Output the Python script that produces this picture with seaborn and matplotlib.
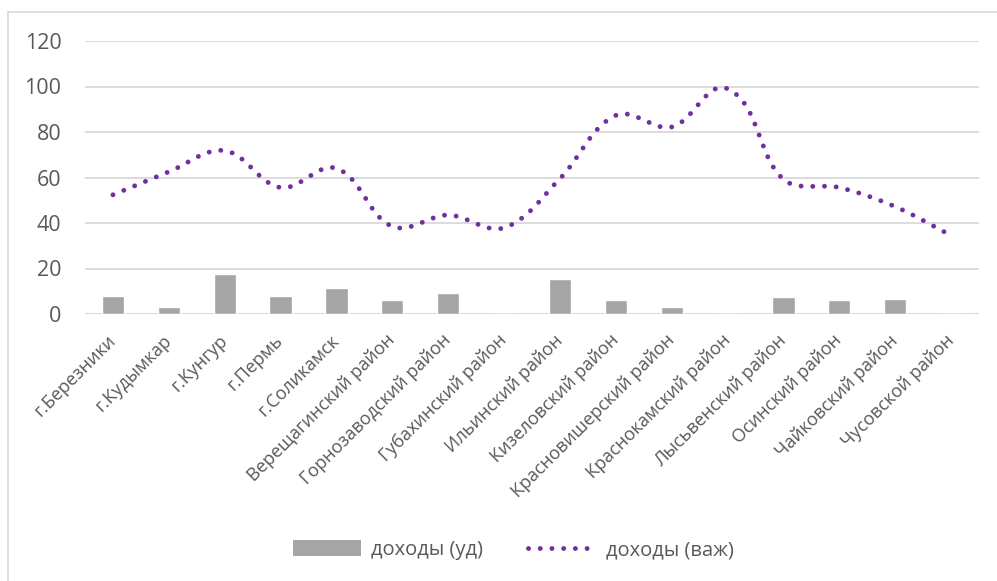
import numpy as np
import pandas as pd
import matplotlib
matplotlib.use("Agg")
import matplotlib.pyplot as plt
from matplotlib.patches import Patch
from matplotlib.lines import Line2D
import seaborn as sns

# Districts of Perm Krai
districts = [
    "г.Березники", "г.Кудымкар", "г.Кунгур", "г.Пермь", "г.Соликамск",
    "Верещагинский район", "Горнозаводский район", "Губахинский район",
    "Ильинский район", "Кизеловский район", "Красновишерский район",
    "Краснокамский район", "Лысьвенский район", "Осинский район",
    "Чайковский район", "Чусовской район",
]
# доходы (уд) - bars
income_ud = [8.0, 3.0, 17.4, 8.0, 11.4, 6.1, 9.2, 0.0,
             15.5, 6.1, 3.0, 0.0, 7.3, 6.1, 6.4, 0.0]
# доходы (важ) - smoothed dotted line
income_vazh = [52.4, 62.5, 71.8, 55.6, 64.0, 38.5, 43.5, 37.9,
               59.5, 87.3, 82.2, 99.0, 59.2, 55.6, 47.2, 34.5]
y_ticks = [0, 20, 40, 60, 80, 100, 120]

BAR_COLOR = "#a5a5a5"
LINE_COLOR = "#7030a0"
TEXT_COLOR = "#595959"
GRID_COLOR = "#d9d9d9"
DOT_STYLE = (0, (0.01, 2.4))


def smooth_curve(ax, values, steps=30):
    """Bezier smoothing through each point; tangent arms are scaled to the
    neighbouring segment lengths measured on screen."""
    xd = np.arange(len(values), dtype=float)
    yd = np.asarray(values, float)
    p = ax.transData.transform(np.column_stack([xd, yd]))
    n = len(p)
    out = []
    for i in range(n - 1):
        p0 = p[i - 1] if i > 0 else p[i]
        p1, p2 = p[i], p[i + 1]
        p3 = p[i + 2] if i + 2 < n else p[i + 1]
        chord = np.linalg.norm(p2 - p1)
        d1 = p2 - p0
        d1 = d1 / np.linalg.norm(d1)
        d2 = p3 - p1
        d2 = d2 / np.linalg.norm(d2)
        c1 = p1 + d1 * chord / 3.0
        c2 = p2 - d2 * chord / 3.0
        t = np.linspace(0, 1, steps, endpoint=(i == n - 2))[:, None]
        seg = ((1 - t) ** 3) * p1 + 3 * ((1 - t) ** 2) * t * c1 + 3 * (1 - t) * t ** 2 * c2 + t ** 3 * p2
        out.append(seg)
    pix = np.concatenate(out)
    data = ax.transData.inverted().transform(pix)
    return data[:, 0], data[:, 1]


sns.set_theme(style="white")
plt.rcParams["font.family"] = ["Open Sans", "DejaVu Sans"]

fig = plt.figure(figsize=(9.97, 5.81), dpi=100)
ax = fig.add_axes([85 / 997, 1 - 314 / 581, (979 - 85) / 997, (314 - 41) / 581])

df = pd.DataFrame({"district": districts, "ud": income_ud, "vazh": income_vazh})

sns.barplot(data=df, x="district", y="ud", color=BAR_COLOR, saturation=1,
            width=0.4, ax=ax, zorder=3)

ax.set_xlim(-0.5, len(districts) - 0.5)
ax.set_ylim(0, 120)

sx, sy = smooth_curve(ax, df["vazh"].to_numpy())
sns.lineplot(x=sx, y=sy, sort=False, ax=ax, color=LINE_COLOR, lw=3.5,
             linestyle=DOT_STYLE, zorder=4)
for ln in ax.lines:
    ln.set_dash_capstyle("round")

ax.set_yticks(y_ticks)
ax.set_yticklabels([str(v) for v in y_ticks])
ax.yaxis.grid(True, color=GRID_COLOR, lw=1.3, zorder=0)
ax.xaxis.grid(False)
ax.set_axisbelow(True)
for s in ax.spines.values():
    s.set_visible(False)
ax.axhline(0, color=GRID_COLOR, lw=1.3, zorder=2)
ax.set_xlabel("")
ax.set_ylabel("")
ax.tick_params(axis="y", length=0, pad=17, labelsize=15.5, labelcolor=TEXT_COLOR)
ax.tick_params(axis="x", length=0, pad=17, labelsize=13, labelcolor=TEXT_COLOR)
for lbl in ax.get_xticklabels():
    lbl.set_rotation(45)
    lbl.set_ha("right")
    lbl.set_va("center")
    lbl.set_rotation_mode("anchor")

dot_handle = Line2D([], [], color=LINE_COLOR, lw=3.5, linestyle=DOT_STYLE, label="доходы (важ)")
dot_handle.set_dash_capstyle("round")
handles = [
    Patch(facecolor=BAR_COLOR, edgecolor="none", label="доходы (уд)"),
    dot_handle,
]
fig.legend(handles=handles, loc="center", bbox_to_anchor=(0.515, 1 - 550 / 581),
           ncol=2, frameon=False, fontsize=14.5, labelcolor=TEXT_COLOR,
           handlelength=3.4, handleheight=0.8, columnspacing=2.2, handletextpad=0.5)

# chart-area border (left and top edges)
fig.add_artist(Line2D([8 / 997, 8 / 997], [0, 1 - 12 / 581], transform=fig.transFigure,
                      color="#d9d9d9", lw=1.2))
fig.add_artist(Line2D([8 / 997, 1], [1 - 12 / 581, 1 - 12 / 581], transform=fig.transFigure,
                      color="#d9d9d9", lw=1.2))

fig.savefig("out.png", dpi=100, facecolor="white")
